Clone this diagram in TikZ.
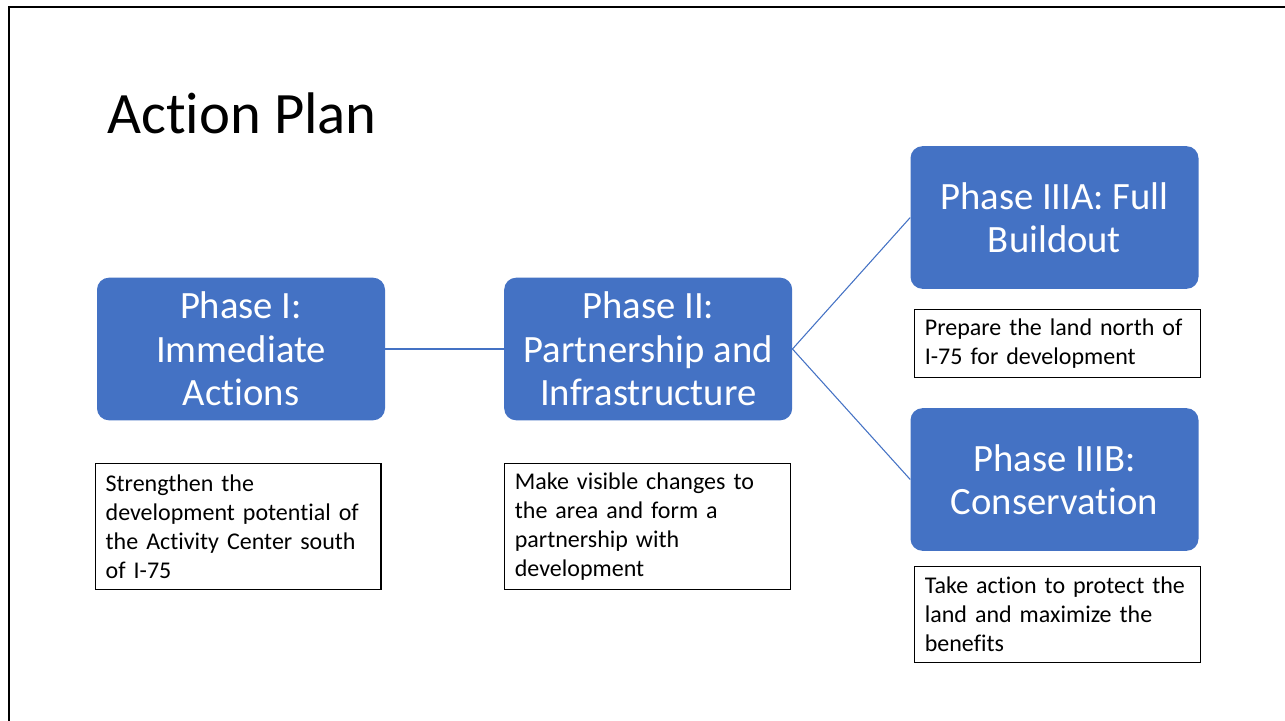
\documentclass[tikz,border=0pt]{standalone}
\usepackage{fontspec}
\setmainfont{Carlito}[Ligatures={NoCommon,NoContextual,NoRare}]
\usetikzlibrary{positioning}
\definecolor{phaseblue}{HTML}{4472C4}
\tikzstyle{phase}=[rectangle, rounded corners=9pt, fill=phaseblue, text=white,
                   minimum width=216pt, minimum height=107pt, align=center,
                   % The text
                   font=\fontsize{29}{32.5}\selectfont]
\tikzstyle{note}=[rectangle, draw=black, line width=0.8pt, text width=199pt,
                  inner xsep=7.5pt, inner ysep=2pt, align=left,
                  font=\fontsize{18}{21.75}\selectfont]
\tikzstyle{link}=[draw=phaseblue, line width=0.8pt]

\begin{document}
\begin{tikzpicture}[x=0.75pt, y=-0.75pt]
  \useasboundingbox (0,0) rectangle (1285,721);
  % Slide frame and title
  \draw[line width=2pt] (9,722) |- (1286,7);
  \node[anchor=base west, inner sep=0pt, font=\fontsize{44}{52}\selectfont] (title) at (107,133) {Action Plan};

  % Place phase boxes
  \node[phase] (p1) at (241,349) {Phase I:\\Immediate\\Actions};
  \node[phase, right = 89pt of p1] (p2) {Phase II:\\Partnership and\\Infrastructure};
  \node[phase] (p3a) at (1054.5,217.5) {Phase IIIA: Full\\Buildout};
  \node[phase] (p3b) at (1054.5,479.5) {Phase IIIB:\\Conservation};

  % Place the notes below each phase
  \node[note, minimum height=94.5pt, below = 32pt of p1, xshift=-2pt] (n1)
    {Strengthen the\\development potential of\\the Activity Center south\\of I-75};
  \node[note, minimum height=94.5pt, below = 32pt of p2, xshift=-0.5pt] (n2)
    {Make visible changes to\\the area and form a\\partnership with\\development};
  \node[note, minimum height=51pt, below = 15pt of p3a, xshift=2.25pt] (n3)
    {Prepare the land north of\\I-75 for development};
  \node[note, minimum height=72pt, below = 11pt of p3b, xshift=2.25pt] (n4)
    {Take action to protect the\\land and maximize the\\benefits};

\path[link] (p1) edge (p2);
\path[link] (p2.east) edge (p3a.west);
\path[link] (p2.east) edge (p3b.west);
\end{tikzpicture}
\end{document}
